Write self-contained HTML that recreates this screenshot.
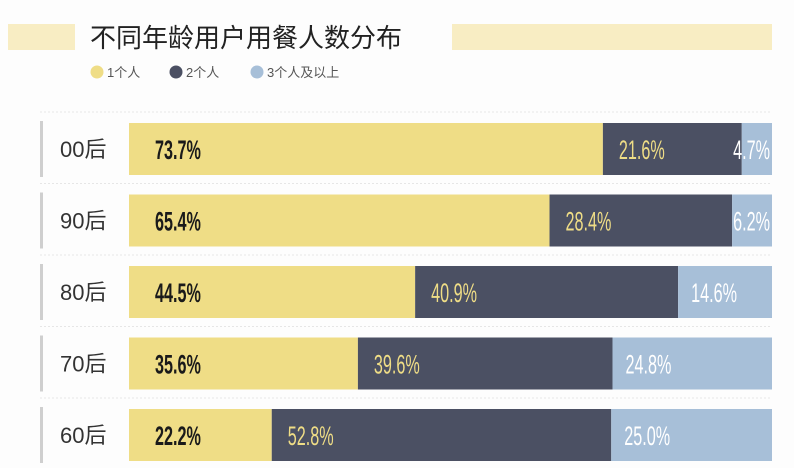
<!DOCTYPE html>
<html><head><meta charset="utf-8"><style>
html,body{margin:0;padding:0;background:#fdfdfd;}
svg{display:block;font-family:"Liberation Sans","Noto Sans CJK SC",sans-serif;}
</style></head><body>
<svg id="chart" width="794" height="468" viewBox="0 0 794 468">
<rect x="0" y="0" width="794" height="468" fill="#fdfdfd"/>
<rect x="8" y="24" width="67" height="26" fill="#f8edc3"/>
<rect x="452" y="24" width="320" height="26" fill="#f8edc3"/>
<text x="90" y="47" font-size="26" fill="#222">不同年龄用户用餐人数分布</text>
<g id="legend"></g>
<g id="rows"></g>
</svg>
<script>
const categories = ["00后","90后","80后","70后","60后"];
const series1 = [73.7,65.4,44.5,35.6,22.2];
const series2 = [21.6,28.4,40.9,39.6,52.8];
const series3 = [4.7,6.2,14.6,24.8,25.0];
const seriesNames = ["1个人","2个人","3个人及以上"];

const NS="http://www.w3.org/2000/svg";
const colors=["#efdd86","#4b5063","#a7bfd8"];
const textColors=["#1a1a1a","#efdd86","#ffffff"];
const x0=129, plotW=643, y0=123, rowStep=71.5, barH=52;
function xScale(v){return v/100*plotW;}
function yScale(i){return y0+i*rowStep;}
function mk(tag,attrs,parent){const e=document.createElementNS(NS,tag);for(const k in attrs)e.setAttribute(k,attrs[k]);parent.appendChild(e);return e;}

const leg=document.getElementById('legend');
const legX=[97,176,257];
seriesNames.forEach((n,i)=>{
  const g=mk('g',{},leg);
  
  
  const c=mk('circle',{cx:legX[i],cy:72,r:6.5,fill:colors[i]},g);
  
  
  const t=mk('text',{x:legX[i]+10,y:77,'font-size':13,fill:'#555'},g);
  
  
  t.textContent=n;
});

const rows=document.getElementById('rows');
const all=[series1,series2,series3];
categories.forEach((cat,i)=>{
  const y=yScale(i);
  const g=mk('g',{},rows);
  
  
  const sep=mk('line',{x1:40,x2:772,y1:y-11,y2:y-11,stroke:'#e6e6e6','stroke-width':1,'stroke-dasharray':'2,2'},g);
  
  
  const mkr=mk('rect',{x:40,y:y-2,width:3,height:barH+4,fill:'#cfcfcf'},g);
  
  
  const lab=mk('text',{x:60,y:y+barH/2+8,'font-size':22,fill:'#333'},g);
  
  
  lab.textContent=cat;
  let acc=0;
  all.forEach((s,j)=>{
    const v=s[i];
    const xs=x0+xScale(acc), w=xScale(v);
    const r=mk('rect',{x:xs,y:y,width:w,height:barH,fill:colors[j]},g);
    
    
    let tx, anchor='start';
    if(j===0) tx=xs+26; else if(v<10){tx=x0+plotW-2;anchor='end';} else tx=xs+(j===1?16:13);
    const t=mk('text',{x:0,y:0,'font-size':27,fill:(j===2?'#fff':textColors[j]),'text-anchor':anchor,'font-weight':j===0?'bold':'normal',transform:'translate('+tx+','+(y+barH/2+10)+') scale(0.6,1)'},g);
    
    
    t.textContent=v.toFixed(1)+'%';
    acc+=v;
  });
});
</script>
</body></html>
